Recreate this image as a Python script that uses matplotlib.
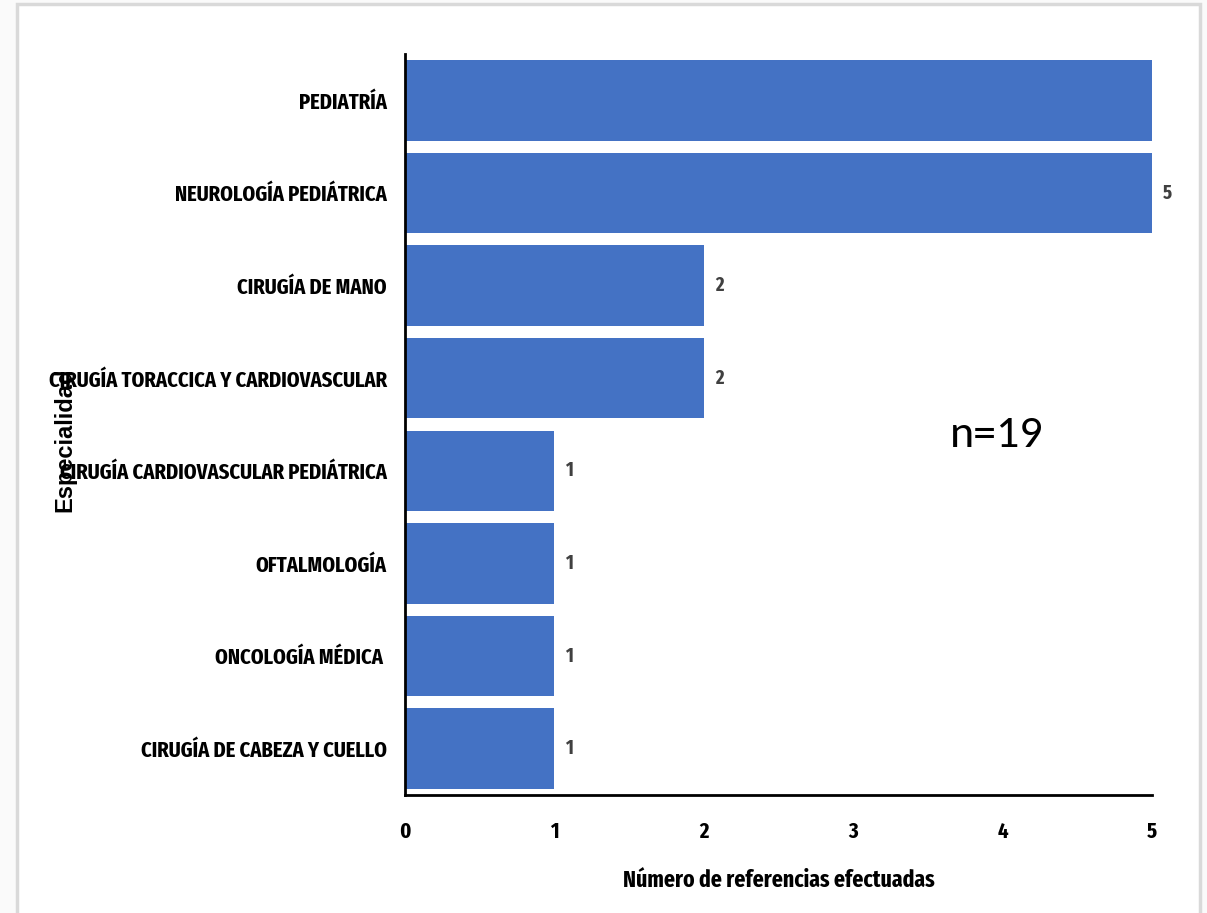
import matplotlib.pyplot as plt
from matplotlib.patches import Rectangle

# Especialidades y número de referencias
especialidades = [
    'PEDIATRÍA',
    'NEUROLOGÍA PEDIÁTRICA',
    'CIRUGÍA DE MANO',
    'CIRUGÍA TORACCICA Y CARDIOVASCULAR',
    'CIRUGÍA CARDIOVASCULAR PEDIÁTRICA',
    'OFTALMOLOGÍA',
    'ONCOLOGÍA MÉDICA ',
    'CIRUGÍA DE CABEZA Y CUELLO',
]
referencias = [5, 5, 2, 2, 1, 1, 1, 1]
etiquetas = ['', '5', '2', '2', '1', '1', '1', '1']
x_ticks = [0, 1, 2, 3, 4, 5]

narrow = ['Fira Sans Extra Condensed', 'DejaVu Sans']

fig = plt.figure(figsize=(12.07, 9.13), dpi=100)
fig.patch.set_facecolor('#fafafa')
# white page with light grey border
fig.patches.append(Rectangle((17 / 1207, -0.01), 1183 / 1207, 1 - 4 / 913 + 0.01,
                             transform=fig.transFigure, facecolor='white',
                             edgecolor='#d9d9d9', linewidth=2.5, zorder=-5))

ax = fig.add_axes([405 / 1207, 1 - 795 / 913, 747 / 1207, 741 / 913])
ax.set_facecolor('none')

pos = list(range(len(especialidades)))
bars = ax.barh(pos, referencias, height=0.87, color='#4472C4')
ax.bar_label(bars, labels=etiquetas, padding=8, color='#404040',
             fontsize=14.5, fontweight='bold', family=narrow)

ax.set_ylim(len(especialidades) - 0.5, -0.5)
ax.set_xlim(0, 5)
ax.set_yticks(pos)
ax.set_yticklabels(especialidades, family=narrow, fontweight='bold', fontsize=16)
ax.set_xticks(x_ticks)
ax.set_xticklabels([str(t) for t in x_ticks], family=narrow, fontweight='bold', fontsize=16)
ax.tick_params(length=0)
ax.tick_params(axis='y', pad=13)
ax.tick_params(axis='x', pad=19)

for s in ['top', 'right']:
    ax.spines[s].set_visible(False)
for s in ['left', 'bottom']:
    ax.spines[s].set_linewidth(2)
    ax.spines[s].set_color('black')

ax.set_xlabel('Número de referencias efectuadas', family=narrow,
              fontweight='bold', fontsize=17, labelpad=19)

fig.text(65 / 1207, 1 - 440 / 913, 'Especialidad', rotation=90, ha='center',
         va='center', fontsize=17, fontweight='bold', family='Liberation Sans')
fig.text(997 / 1207, 1 - 435 / 913, 'n=19', ha='center', va='center',
         fontsize=33, family=['Carlito', 'Open Sans'])

fig.savefig('out.png', dpi=100, facecolor=fig.get_facecolor())
